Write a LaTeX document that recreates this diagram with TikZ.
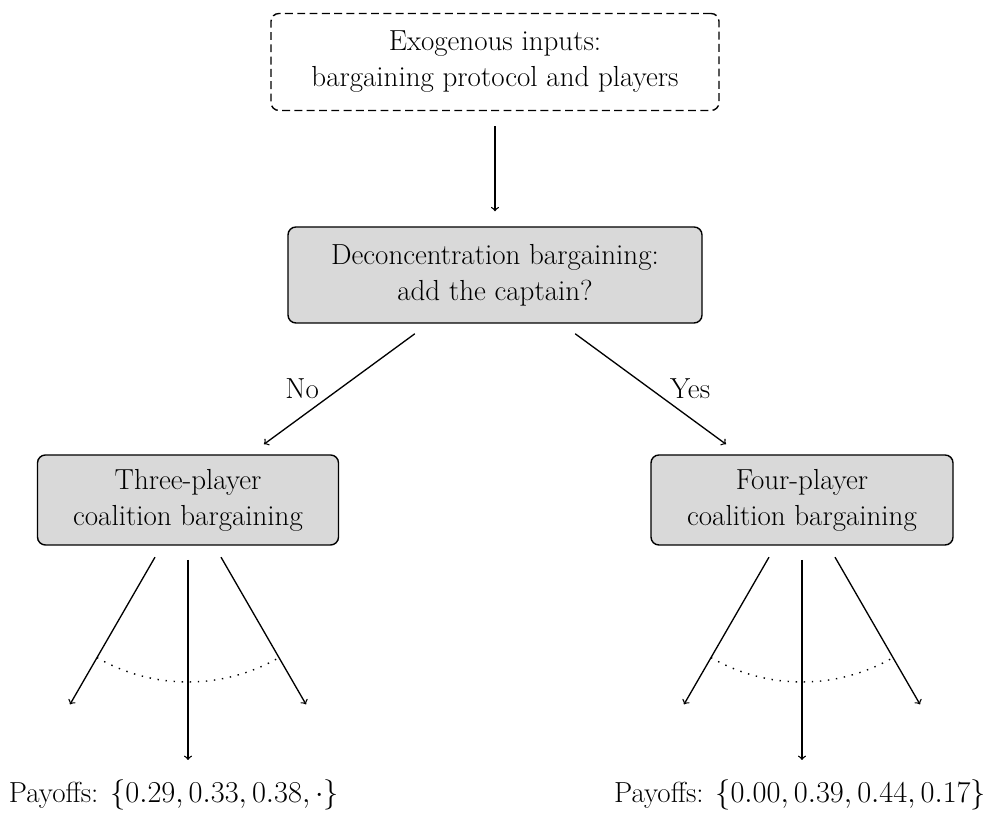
\documentclass[tikz,border=0pt]{standalone}
\usetikzlibrary{calc}
\begin{document}
\begin{tikzpicture}[
		every node/.style={font=\fontsize{16.5}{20.5}\selectfont},
		stage/.style={draw, rounded corners=4.5pt, fill=gray!30, align=center, line width=0.8pt},
		exo/.style={draw, rounded corners=4.5pt, align=center, line width=0.8pt, dash pattern=on 4.5pt off 2.5pt},
		branch/.style={->, line width=0.75pt},
		fan/.style={line width=0.8pt, dash pattern=on 0.8pt off 3.8pt}
	]
		\useasboundingbox (0,0) rectangle (20.06,16.34);

		\node(inputs)[exo, minimum width=8.96cm, minimum height=1.94cm] at (9.9,15.1){Exogenous inputs:\\bargaining protocol and players};
		\node(decon)[stage, minimum width=8.28cm, minimum height=1.92cm] at (9.9,10.84){Deconcentration bargaining:\\add the captain?};
		\node(three)[stage, minimum width=6.02cm, minimum height=1.8cm] at (3.76,6.34){Three-player\\coalition bargaining};
		\node(four)[stage, minimum width=6.04cm, minimum height=1.8cm] at (16.04,6.34){Four-player\\coalition bargaining};

		\draw[branch, shorten <=0.3cm, shorten >=0.3cm] (inputs) -- (decon);
		\draw[branch, shorten <=0.34cm, shorten >=0.34cm] (decon) -- node[midway, left=0.28cm]{No} (three);
		\draw[branch, shorten <=0.34cm, shorten >=0.34cm] (decon) -- node[midway, right=0.26cm]{Yes} (four);

		\draw[branch] ($(three)+(-120:1.32)$) -- ($(three)+(-120:4.72)$);
		\draw[branch] ($(three)+(-90:1.2)$) -- ($(three)+(-90:5.2)$);
		\draw[branch] ($(three)+(-60:1.32)$) -- ($(three)+(-60:4.72)$);
		\draw[fan] ($(three)+(-120:3.64)$) arc[start angle=-120, end angle=-60, radius=3.64];

		\draw[branch] ($(four)+(-120:1.32)$) -- ($(four)+(-120:4.72)$);
		\draw[branch] ($(four)+(-90:1.2)$) -- ($(four)+(-90:5.2)$);
		\draw[branch] ($(four)+(-60:1.32)$) -- ($(four)+(-60:4.72)$);
		\draw[fan] ($(four)+(-120:3.64)$) arc[start angle=-120, end angle=-60, radius=3.64];

		\node(pay3)[anchor=base] at (3.48,0.28){Payoffs: $\{0.29, 0.33, 0.38, \cdot\}$};
		\node(pay4)[anchor=base] at (16.0,0.28){Payoffs: $\{0.00, 0.39, 0.44, 0.17\}$};
	\end{tikzpicture}
\end{document}
